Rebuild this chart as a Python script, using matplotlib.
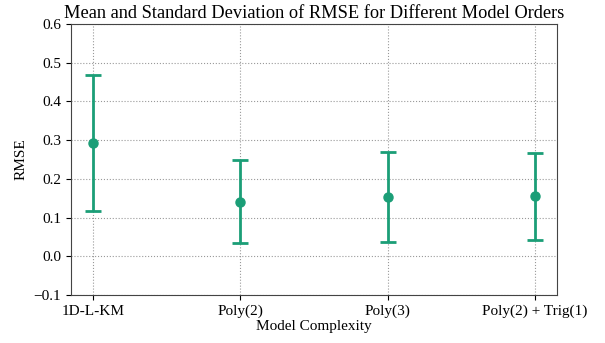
import matplotlib.pyplot as plt

plt.rcParams["font.family"] = ["Liberation Serif", "DejaVu Serif"]

models = ["1D-L-KM", "Poly(2)", "Poly(3)", "Poly(2) + Trig(1)"]
rmse_mean = [0.292, 0.141, 0.153, 0.155]
rmse_std = [0.175, 0.107, 0.117, 0.113]

fig = plt.figure(figsize=(6.05, 3.43), dpi=100)
ax = fig.add_axes([0.117, 0.14, 0.804, 0.79])

ax.errorbar(models, rmse_mean, yerr=rmse_std, fmt="o", color="#1b9e77",
            ecolor="#1b9e77", elinewidth=2, capsize=6, capthick=2, markersize=6.5)

ax.set_ylim(-0.1, 0.6)
ax.set_title("Mean and Standard Deviation of RMSE for Different Model Orders",
             fontsize=13.2, pad=4)
ax.set_xlabel("Model Complexity", fontsize=11, labelpad=1)
ax.set_ylabel("RMSE", fontsize=11)
ax.tick_params(labelsize=11)
ax.grid(True, linestyle=":", color="gray", alpha=0.8)
for s in ax.spines.values():
    s.set_color("#444444")

fig.savefig("out.png", dpi=100)
